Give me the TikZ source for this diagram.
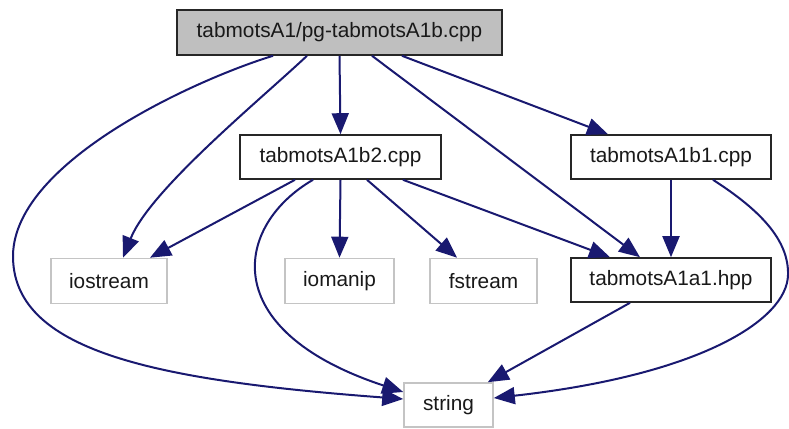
\documentclass[tikz,border=0pt]{standalone}
\usepackage{fontspec}
\setmainfont{Liberation Sans}
\usetikzlibrary{arrows.meta}
\definecolor{edgecol}{HTML}{191970}
\definecolor{grayborder}{HTML}{C4C4C4}
\definecolor{topfill}{HTML}{BFBFBF}
\begin{document}
\begin{tikzpicture}[x=1pt,y=-1pt,
  box/.style={draw=black!85, line width=1.6pt, minimum height=44pt, inner sep=0pt,
    font=\fontsize{20.8}{24}\selectfont, text=black!90},
  gbox/.style={box, draw=grayborder},
  edge/.style={draw=edgecol, line width=2pt, -{Triangle[length=21pt,width=17pt]}}]
\useasboundingbox (0,0) rectangle (789,428);
% nodes
\node[box, fill=topfill, minimum width=325pt, minimum height=45pt] (top) at (339.5,32.5) {tabmotsA1/pg-tabmotsA1b.cpp};
\node[box, fill=white, minimum width=201pt] (b2) at (340.5,157) {tabmotsA1b2.cpp};
\node[box, fill=white, minimum width=200pt] (b1) at (671,157) {tabmotsA1b1.cpp};
\node[gbox, minimum width=116pt, minimum height=45pt] (ios) at (109,281) {iostream};
\node[gbox, minimum width=109pt, minimum height=45pt] (iom) at (339.5,281) {iomanip};
\node[gbox, minimum width=107pt, minimum height=45pt] (fst) at (483.5,281) {fstream};
\node[box, fill=white, minimum width=200pt] (a1) at (671,280) {tabmotsA1a1.hpp};
\node[gbox, minimum width=89pt] (str) at (448.5,405) {string};
% edges
\draw[edge] ([xshift=-66.5pt]top.south) .. controls (200,78) and (15,160) .. (13,255)
  .. controls (12,350) and (150,380) .. ([yshift=6pt]str.west);
\draw[edge] ([xshift=-32.5pt]top.south) .. controls (260,100) and (150,190) .. ([xshift=14pt]ios.north);
\draw[edge] (top.south) -- (b2.north);
\draw[edge] ([xshift=32.5pt]top.south) -- ([xshift=-31pt]a1.north);
\draw[edge] ([xshift=62.5pt]top.south) -- ([xshift=-63pt]b1.north);
\draw[edge] ([xshift=-45.5pt]b2.south) -- ([xshift=41pt]ios.north);
\draw[edge] ([xshift=-27.5pt]b2.south) .. controls (235,225) and (215,330) .. ([yshift=13pt]str.west);
\draw[edge] (b2.south) -- (iom.north);
\draw[edge] ([xshift=26.5pt]b2.south) -- ([xshift=-26.5pt]fst.north);
\draw[edge] ([xshift=62.5pt]b2.south) -- ([xshift=-61pt]a1.north);
\draw[edge] (b1.south) -- (a1.north);
\draw[edge] ([xshift=42pt]b1.south) .. controls (760,210) and (789,240) .. (788,275)
  .. controls (787,320) and (700,375) .. ([yshift=7pt]str.east);
\draw[edge] ([xshift=-41pt]a1.south) -- ([xshift=-6pt]str.north east);
\end{tikzpicture}
\end{document}
